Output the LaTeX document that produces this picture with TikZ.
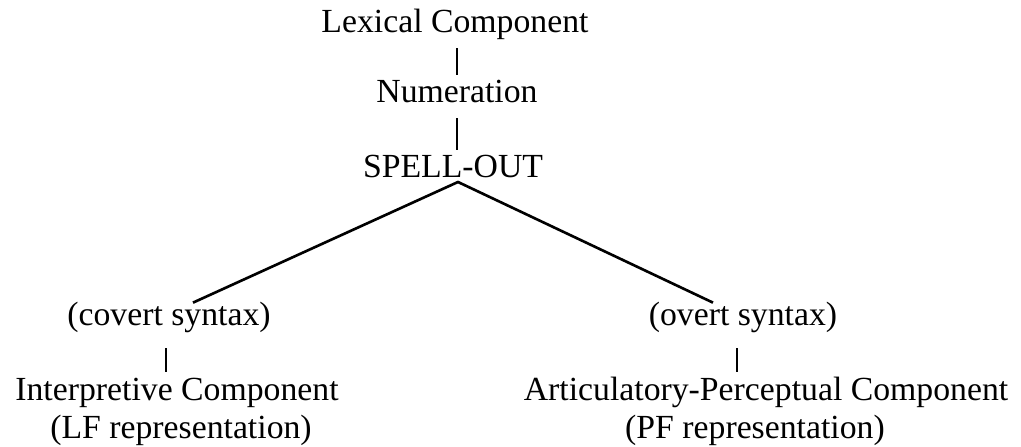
\documentclass[tikz,border=0pt]{standalone}
\usepackage{fontspec}
\setmainfont{Liberation Serif}
\usepackage{tikz}
\usetikzlibrary{positioning}
\tikzset{lbl/.style = {anchor = base, inner sep = 0, text height = 0.56cm, text depth = 0.30cm, font = \fontsize{19.2}{22}\selectfont}}
\tikzset{bar/.style = {line width = 1.5pt}}

\begin{document}
\begin{tikzpicture}

      \useasboundingbox (0, 0) rectangle (20.42, 8.92);

      \node [lbl] (lex) at (9.10, 8.26) {Lexical Component};
      \node [lbl] (num) at (9.14, 6.86) {Numeration};
      \node [lbl] (spell) at (9.06, 5.36) {SPELL-OUT};

      \node [lbl] (covert) at (3.38, 2.42) {(covert syntax)};
      \node [lbl] (interp) at (3.54, 0.92) {Interpretive Component};
      \node [lbl] (lf) at (3.62, 0.16) {(LF representation)};

      \node [lbl] (overt) at (14.86, 2.42) {(overt syntax)};
      \node [lbl] (artic) at (15.32, 0.92) {Articulatory-Perceptual Component};
      \node [lbl] (pf) at (15.10, 0.16) {(PF representation)};

      \draw [bar] (num.north |- lex.south) -- (num.north);
      \draw [bar] (num.south) -- (num.south |- spell.north);

      \coordinate (top) at ([xshift = 0.10cm, yshift = -0.08cm]spell.base);
      \draw [bar] ([xshift = 0.48cm, yshift = -0.12cm]covert.north) -- (top)
                  -- ([xshift = -0.60cm, yshift = -0.12cm]overt.north);

      \draw [bar, shorten <= 0.16cm] ([xshift = -0.06cm]covert.south) -- ([xshift = -0.06cm]covert.south |- interp.north);
      \draw [bar, shorten <= 0.16cm] ([xshift = -0.12cm]overt.south) -- ([xshift = -0.12cm]overt.south |- artic.north);

    \end{tikzpicture}
\end{document}
